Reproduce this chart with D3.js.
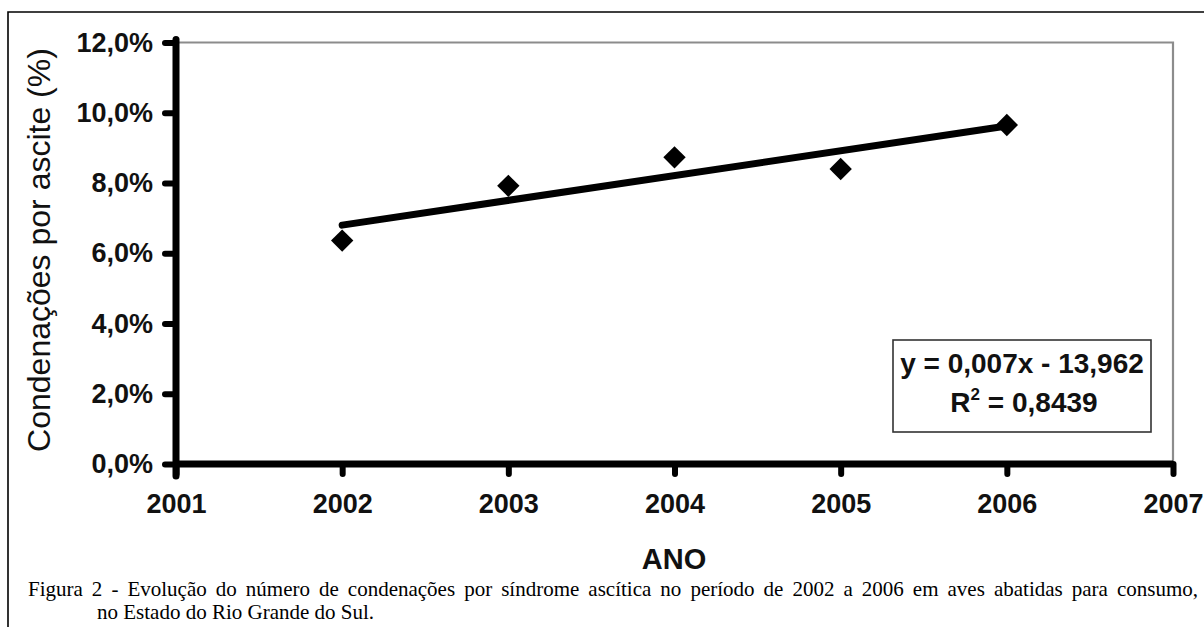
<!DOCTYPE html>
<html><head><meta charset="utf-8">
<script src="https://cdn.jsdelivr.net/npm/d3@7"></script>
<style>html,body{margin:0;padding:0;background:#fff;}svg{display:block;}</style>
</head><body>
<svg id="c" width="1204" height="627"></svg>
<script>
const years = [2002, 2003, 2004, 2005, 2006];
const values = [0.0636, 0.0792, 0.0873, 0.0840, 0.0965];
const xTicks = [2001, 2002, 2003, 2004, 2005, 2006, 2007];
const yTicks = [0, 0.02, 0.04, 0.06, 0.08, 0.10, 0.12];
const yTitle = "Condenações por ascite (%)";
const xTitle = "ANO";
const eqLine1 = "y = 0,007x - 13,962";
const eqLine2a = "R", eqLine2b = "2", eqLine2c = " = 0,8439";
const caption1 = "Figura 2 - Evolução do número de condenações por síndrome ascítica no período de 2002 a 2006 em aves abatidas para consumo,";
const caption2 = "no Estado do Rio Grande do Sul.";

const svg = d3.select("#c");
const sans = "'Liberation Sans', Arial, sans-serif";
const serif = "'Liberation Serif', 'Times New Roman', serif";

// outer frame
svg.append("path").attr("d", "M8,627 L8,12 L1204,12").attr("fill","none").attr("stroke","#000").attr("stroke-width",1.6);

const x = d3.scaleLinear().domain([2001, 2007]).range([176, 1173]);
const y = d3.scaleLinear().domain([0, 0.12]).range([464, 42.5]);

// gray plot border (top & right)
svg.append("path")
  .attr("d", `M${x(2001)},${y(0.12)} L${x(2007)},${y(0.12)} L${x(2007)},${y(0)}`)
  .attr("fill","none").attr("stroke","#8c8c8c").attr("stroke-width",2.2);

const fmtPct = d => d3.format(".1f")(d*100).replace(".", ",") + "%";

// y axis
const gy = svg.append("g").attr("transform", `translate(${x(2001)},0)`)
  .call(d3.axisLeft(y).tickValues(yTicks).tickFormat(fmtPct).tickSize(11).tickPadding(12));
gy.select(".domain").attr("d", `M0,${y(0.12)-3}V${y(0)+12}`).attr("stroke","#000").attr("stroke-width",7).attr("stroke-linecap","round");
gy.selectAll(".tick line").attr("stroke","#000").attr("stroke-width",6).attr("stroke-linecap","round");
gy.selectAll(".tick text").attr("font-family", sans).attr("font-weight","bold").attr("font-size",27).attr("fill","#111");

// x axis
const gx = svg.append("g").attr("transform", `translate(0,${y(0)})`)
  .call(d3.axisBottom(x).tickValues(xTicks).tickFormat(d3.format("d")).tickSize(10).tickPadding(20));
gx.select(".domain").attr("d", `M${x(2001)},0H${x(2007)}`).attr("stroke","#000").attr("stroke-width",7);
gx.selectAll(".tick line").attr("stroke","#000").attr("stroke-width",6).attr("stroke-linecap","round");
gx.selectAll(".tick text").attr("font-family", sans).attr("font-weight","bold").attr("font-size",27).attr("fill","#111");

// axis titles
svg.append("text").attr("transform", "translate(50,250) rotate(-90)")
  .attr("text-anchor","middle").attr("font-family",sans).attr("font-size",32).attr("fill","#111").text(yTitle);
svg.append("text").attr("x", 674).attr("y", 569)
  .attr("text-anchor","middle").attr("font-family",sans).attr("font-weight","bold").attr("font-size",29).attr("fill","#111").text(xTitle);

// linear trend (least squares from the data)
const mx = d3.mean(years), my = d3.mean(values);
const slope = d3.sum(years, (v,i) => (v-mx)*(values[i]-my)) / d3.sum(years, v => (v-mx)*(v-mx));
const icpt = my - slope*mx;
const x0 = d3.min(years), x1 = d3.max(years);
svg.append("line")
  .attr("x1", x(x0)).attr("y1", y(icpt + slope*x0))
  .attr("x2", x(x1)).attr("y2", y(icpt + slope*x1))
  .attr("stroke","#000").attr("stroke-width",7).attr("stroke-linecap","round");

// diamonds
const sym = d3.symbol(d3.symbolSquare, 250);
svg.append("g").selectAll("path").data(years).join("path")
  .attr("d", sym)
  .attr("transform", (d,i) => `translate(${x(d)},${y(values[i])}) rotate(45)`)
  .attr("fill","#000");

// equation box
svg.append("rect").attr("x", 893).attr("y", 340).attr("width", 258).attr("height", 92)
  .attr("fill","#fff").attr("stroke","#333").attr("stroke-width",1.6);
svg.append("text").attr("x", 1022).attr("y", 373).attr("text-anchor","middle")
  .attr("font-family",sans).attr("font-weight","bold").attr("font-size",28).attr("fill","#111").text(eqLine1);
const t2 = svg.append("text").attr("x", 1024).attr("y", 412).attr("text-anchor","middle")
  .attr("font-family",sans).attr("font-weight","bold").attr("font-size",28).attr("fill","#111");
t2.append("tspan").text(eqLine2a);
t2.append("tspan").attr("dy",-12).attr("font-size",17).text(eqLine2b);
t2.append("tspan").attr("dy",12).text(eqLine2c);

// caption (justified by word spacing)
const c1 = svg.append("text").attr("x", 28).attr("y", 596).attr("font-family",serif).attr("font-size",21).attr("fill","#000")
  .text(caption1);
const natural = c1.node().getComputedTextLength();
const spaces = caption1.split(" ").length - 1;
const ws = (1170 - natural) / spaces;
c1.attr("word-spacing", ws);
svg.append("text").attr("x", 97).attr("y", 619).attr("font-family",serif).attr("font-size",21).attr("fill","#000")
  .text(caption2);
</script>
</body></html>
